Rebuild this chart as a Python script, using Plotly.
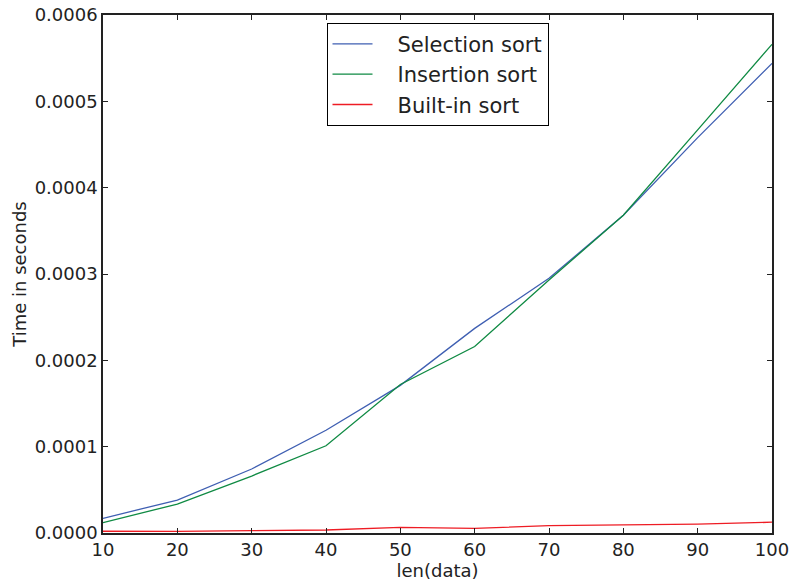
import plotly.graph_objects as go

sizes = [10, 20, 30, 40, 50, 60, 70, 80, 90, 100]
selection_sort = [0.0000170, 0.0000382, 0.0000741, 0.000119, 0.000171, 0.000237,
                  0.000295, 0.000368, 0.000458, 0.000544]
insertion_sort = [0.0000120, 0.0000335, 0.0000660, 0.000101, 0.000172, 0.000216,
                  0.000293, 0.000368, 0.000467, 0.000566]
builtin_sort = [0.0000020, 0.0000018, 0.0000027, 0.0000035, 0.0000066, 0.0000054,
                0.0000085, 0.0000096, 0.0000102, 0.0000125]

x_ticks = [10, 20, 30, 40, 50, 60, 70, 80, 90, 100]
y_ticks = [0.0, 0.0001, 0.0002, 0.0003, 0.0004, 0.0005, 0.0006]
y_tick_labels = ["0.0000", "0.0001", "0.0002", "0.0003", "0.0004", "0.0005", "0.0006"]
series_names = ["Selection sort", "Insertion sort", "Built-in sort"]

FONT = "DejaVu Sans"
PAD = "\u00a0\u00a0\u00a0"

fig = go.Figure()
fig.add_trace(go.Scatter(x=sizes, y=selection_sort, mode="lines", name=PAD + series_names[0],
                         legendgroup="a", line=dict(color="#3f5fb2", width=1.3)))
fig.add_trace(go.Scatter(x=sizes, y=insertion_sort, mode="lines", name=PAD + series_names[1],
                         legendgroup="b", line=dict(color="#0f8a43", width=1.3)))
fig.add_trace(go.Scatter(x=sizes, y=builtin_sort, mode="lines", name=PAD + series_names[2],
                         legendgroup="c", line=dict(color="#ee1c24", width=1.3)))

axis_common = dict(
    showgrid=False, zeroline=False, showline=True, linecolor="#222222", linewidth=1.5,
    mirror="ticks", ticks="inside", ticklen=5, tickwidth=1, tickcolor="#222222",
    tickfont=dict(family=FONT, size=18, color="#222222"), automargin=False,
)

fig.update_layout(
    width=795, height=583,
    margin=dict(l=103, r=23, t=15, b=50),
    paper_bgcolor="white", plot_bgcolor="white",
    font=dict(family=FONT, size=18, color="#222222"),
    showlegend=True,
    legend=dict(x=0.5, xanchor="center", y=0.985, yanchor="top",
                bordercolor="#000000", borderwidth=1, bgcolor="white",
                font=dict(family=FONT, size=21, color="#222222"),
                traceorder="grouped", tracegroupgap=0, itemwidth=40),
    xaxis=dict(range=[10, 100], tickvals=x_ticks, ticktext=[str(v) for v in x_ticks],
               title=dict(text="len(data)", font=dict(family=FONT, size=18), standoff=4),
               **axis_common),
    yaxis=dict(range=[0, 0.0006], tickvals=y_ticks, ticktext=y_tick_labels,
               title=dict(text="Time in seconds", font=dict(family=FONT, size=18), standoff=3),
               **axis_common),
)

fig.write_html("out.html", config={"displayModeBar": False},
               post_script="document.body.style.margin='0';")
